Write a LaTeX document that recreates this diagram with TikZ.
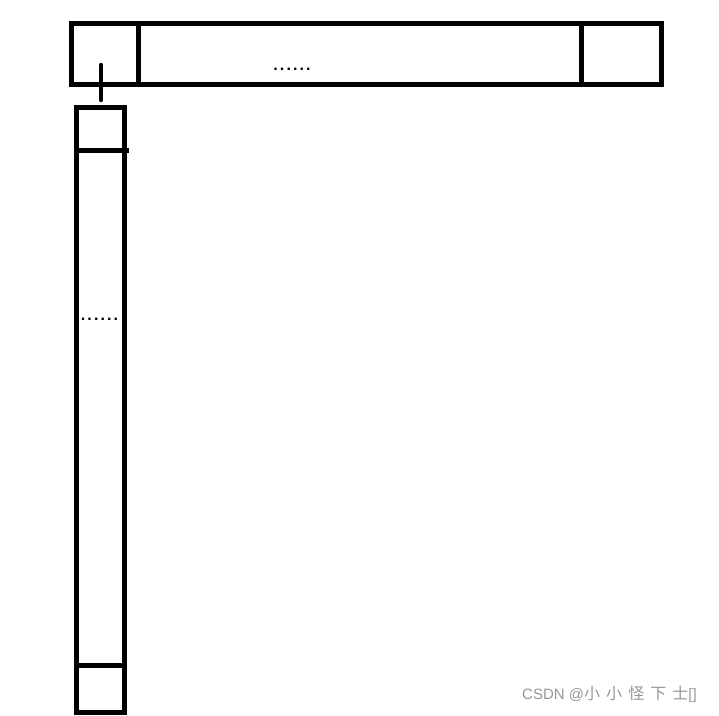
\documentclass[tikz,border=0pt]{standalone}
\usepackage{fontspec}
\setmainfont{Liberation Sans}
\newfontfamily\cjk[LetterSpace=38]{Noto Sans CJK SC}
\definecolor{wmgray}{RGB}{150,150,150}
\begin{document}
\begin{tikzpicture}[x=1pt,y=-1pt,
  cell/.style={draw,line width=5pt,inner sep=0pt,outer sep=0pt},
  dots/.style={inner sep=0pt,font=\fontsize{16}{18}\selectfont\bfseries\addfontfeature{LetterSpace=13}},
  link/.style={line width=4.5pt,line cap=round}]
\useasboundingbox (0,0) rectangle (719,715);
% top row
\node[cell,minimum width=66.5pt,minimum height=61pt] (tl) at (104.75,54) {};
\node[cell,minimum width=443.5pt,minimum height=61pt] (tm) at (359.75,54) {};
\node[cell,minimum width=80pt,minimum height=61pt] (tr) at (621.5,54) {};
% column
\node[cell,minimum width=48pt,minimum height=42.5pt] (ct) at (100.5,128.75) {};
\node[cell,minimum width=48pt,minimum height=515.5pt] (cm) at (100.5,407.75) {};
\node[cell,minimum width=48pt,minimum height=47pt] (cb) at (100.5,689) {};
% small overhang of the divider
\coordinate (ov) at (128.5,150);
\draw[line width=5pt] (cm.north east) -- (ov);
% dots
\node[dots] (dt) at (292,69) {......};
\node[dots] (dl) at (99.5,319) {......};
% tick linking the two
\coordinate (tka) at (101,65);
\coordinate (tkb) at (101,100);
\draw[link] (tka) -- (tkb);
% watermark
\node[anchor=west,inner sep=0pt,text=wmgray,font=\fontsize{15}{17}\selectfont] (wm) at (522,694) {CSDN @{\cjk\fontsize{16}{18}\selectfont 小小怪下士}[]};
\end{tikzpicture}
\end{document}
